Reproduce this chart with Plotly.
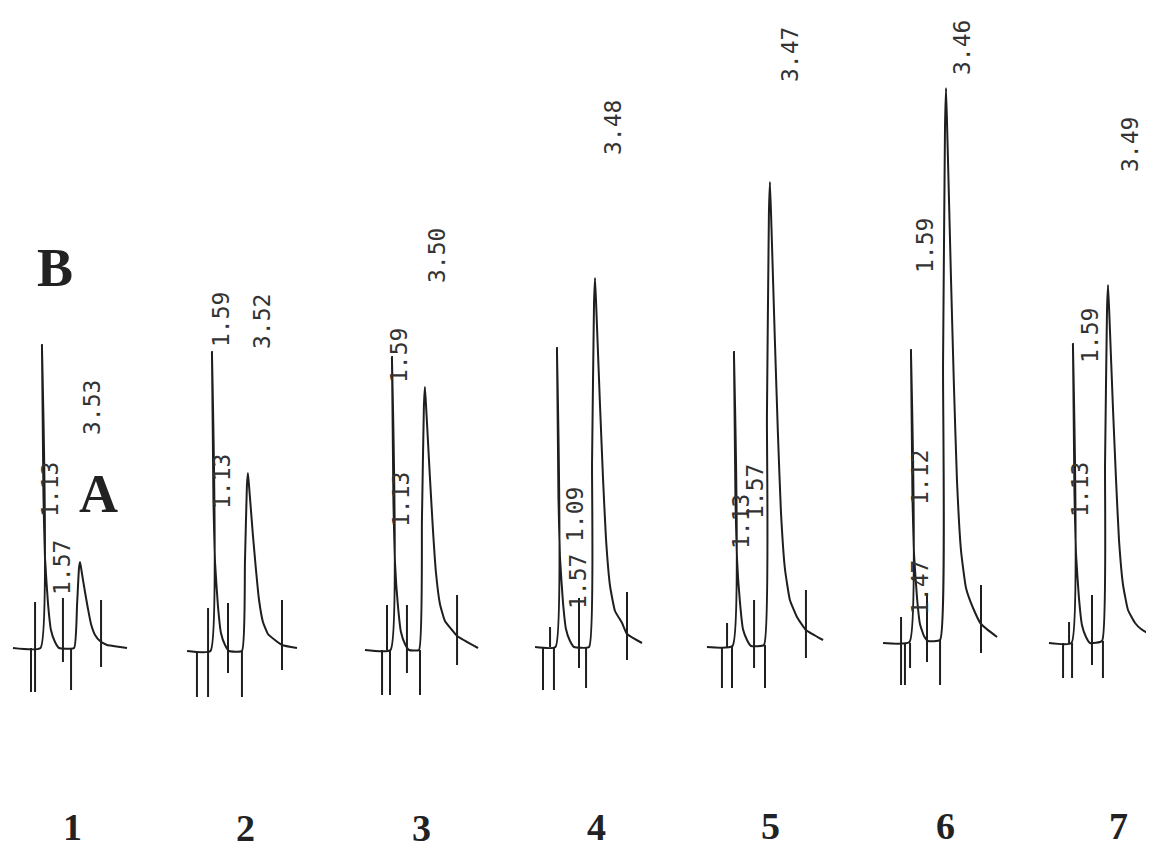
import plotly.graph_objects as go

# run numbers printed under each chromatogram
run_names = ["1", "2", "3", "4", "5", "6", "7"]

# detector signal per run: time (min) and response (arbitrary units)
signal_time = [
    [-0.80, 1.03, 1.13, 1.23, 1.33, 1.53, 1.73, 2.00, 2.27, 3.27, 3.47, 3.60, 3.67, 3.77, 4.00, 4.20, 4.40, 4.67, 5.00, 5.47, 5.87, 6.80],
    [-0.53, 1.03, 1.13, 1.23, 1.33, 1.53, 1.73, 2.00, 2.27, 3.13, 3.33, 3.46, 3.53, 3.63, 3.86, 4.06, 4.26, 4.53, 4.86, 5.33, 5.80, 6.80],
    [-0.67, 1.03, 1.13, 1.23, 1.33, 1.53, 1.73, 2.00, 2.27, 2.93, 3.13, 3.26, 3.33, 3.43, 3.66, 3.86, 4.06, 4.33, 4.66, 5.13, 5.47, 6.87],
    [-0.33, 1.03, 1.13, 1.23, 1.33, 1.53, 1.73, 2.00, 2.27, 3.27, 3.47, 3.60, 3.67, 3.77, 4.00, 4.20, 4.40, 4.67, 5.00, 5.47, 5.80, 6.80],
    [-0.67, 1.03, 1.13, 1.23, 1.33, 1.53, 1.73, 2.00, 2.27, 3.13, 3.33, 3.46, 3.53, 3.63, 3.86, 4.06, 4.26, 4.53, 4.86, 5.33, 5.93, 7.07],
    [-0.73, 1.03, 1.13, 1.23, 1.33, 1.53, 1.73, 2.00, 2.27, 3.07, 3.27, 3.40, 3.47, 3.57, 3.80, 4.00, 4.20, 4.47, 4.80, 5.27, 5.80, 6.87],
    [-0.47, 1.03, 1.13, 1.23, 1.33, 1.53, 1.73, 2.00, 2.27, 3.07, 3.27, 3.40, 3.47, 3.57, 3.80, 4.00, 4.20, 4.47, 4.80, 5.27, 5.67, 6.13, 6.53],
]
signal_value = [
    [0, 0, 303, 152, 91, 45, 18, 6, 0, 0, 43, 80, 86, 77, 56, 39, 24, 13, 7, 3, 2, 0],
    [-3, -3, 296, 147, 87, 42, 15, 3, -3, -3, 86, 162, 175, 157, 113, 79, 49, 26, 14, 8, 3, 0],
    [-2, -2, 291, 145, 86, 42, 16, 4, -2, -2, 129, 242, 261, 235, 171, 119, 76, 44, 27, 18, 12, 0],
    [1, 1, 300, 151, 91, 46, 19, 7, 1, 1, 186, 344, 370, 333, 243, 170, 109, 62, 37, 25, 14, 5],
    [1, 2, 296, 149, 90, 46, 19, 8, 2, 3, 234, 434, 466, 421, 307, 215, 137, 79, 48, 31, 18, 8],
    [5, 6, 298, 152, 95, 51, 24, 12, 7, 8, 284, 521, 560, 505, 369, 260, 167, 97, 60, 40, 24, 11],
    [5, 5, 304, 155, 95, 50, 23, 11, 5, 7, 185, 338, 363, 328, 239, 169, 108, 63, 38, 25, 19, 15, 14],
]

# integrator event marks: time, upper end, lower end
mark_time = [
    [0.40, 0.67, 2.53, 3.07, 5.07],
    [0.13, 0.87, 2.20, 3.13, 5.80],
    [0.47, 0.80, 1.00, 2.13, 3.00, 5.47],
    [0.20, 0.67, 0.93, 2.60, 3.07, 5.80],
    [0.33, 0.67, 1.00, 2.47, 3.20, 5.93],
    [0.47, 0.73, 1.07, 2.20, 3.07, 5.80],
    [0.47, 0.87, 1.07, 2.40, 3.13, 6.13],
]
mark_top = [
    [0, 46, 50, 0, 48],
    [-3, 40, 45, -3, 48],
    [-2, 43, -2, 43, -2, 53],
    [1, 21, 1, 50, 1, 56],
    [1, 25, 1, 48, 3, 58],
    [31, 5, 5, 55, 8, 63],
    [5, 26, 5, 53, 7, 56],
]
mark_bottom = [
    [-44, -44, -14, -42, -19],
    [-49, -49, -25, -49, -22],
    [-47, -2, -47, -25, -47, -17],
    [-42, 1, -42, -20, -40, -12],
    [-40, 1, -40, -20, -40, -10],
    [-37, -37, -20, -14, -37, -5],
    [-30, 5, -30, -17, -30, -12],
]

# retention time labels printed by the integrator
rt_labels = [
    ["1.13", "1.57", "3.53"],
    ["1.59", "1.13", "3.52"],
    ["1.59", "1.13", "3.50"],
    ["1.09", "1.57", "3.48"],
    ["1.13", "1.57", "3.47"],
    ["1.59", "1.12", "1.47", "3.46"],
    ["1.59", "1.13", "3.49"],
]

W, H = 1154, 853
OFF = 8  # page body margin
FW, FH = W - OFF, H - OFF
PX_PER_MIN = 15
T_MIN = -1.0
panel_left = [10, 180, 360, 525, 702, 879, 1041]
panel_width = 125
# label centres in page pixels, same order as rt_labels
label_pos = [
    [(50, 490), (62, 568), (92, 408)],
    [(221, 320), (222, 482), (262, 322)],
    [(399, 356), (401, 500), (437, 256)],
    [(575, 515), (578, 582), (613, 128)],
    [(741, 522), (755, 492), (790, 55)],
    [(925, 246), (920, 478), (920, 588), (962, 48)],
    [(1090, 336), (1080, 490), (1130, 145)],
]
name_pos = [(72, 827), (245, 828), (421, 828), (596, 827), (770, 826), (945, 826), (1118, 826)]


def px_x(px):
    return (px - OFF) / FW


def px_y(py):
    return 1 - (py - OFF) / FH


ink = "#1e1e1e"
fig = go.Figure()
layout = {}
for i in range(7):
    ax = "x" if i == 0 else "x%d" % (i + 1)
    left = panel_left[i]
    right = min(W, left + panel_width)
    layout["xaxis" if i == 0 else "xaxis%d" % (i + 1)] = dict(
        domain=[px_x(left), px_x(right)],
        range=[T_MIN, T_MIN + (right - left) / PX_PER_MIN],
        visible=False, anchor="y", fixedrange=True,
    )
    fig.add_trace(go.Scatter(
        x=signal_time[i], y=signal_value[i], xaxis=ax, yaxis="y",
        mode="lines", line=dict(color=ink, width=2, shape="spline", smoothing=0.4),
        showlegend=False,
    ))
    mx, my = [], []
    for t, a, b in zip(mark_time[i], mark_top[i], mark_bottom[i]):
        mx += [t, t, None]
        my += [a, b, None]
    fig.add_trace(go.Scatter(
        x=mx, y=my, xaxis=ax, yaxis="y",
        mode="lines", line=dict(color=ink, width=2), showlegend=False,
    ))

annotations = []
for i in range(7):
    for text, (px, py) in zip(rt_labels[i], label_pos[i]):
        annotations.append(dict(
            x=px_x(px), y=px_y(py), xref="paper", yref="paper", text=text,
            xanchor="center", yanchor="middle", textangle=-90, showarrow=False,
            font=dict(family="DejaVu Sans Mono", size=23, color="#333"),
        ))
    px, py = name_pos[i]
    annotations.append(dict(
        x=px_x(px), y=px_y(py), xref="paper", yref="paper", text="<b>%s</b>" % run_names[i],
        xanchor="center", yanchor="middle", showarrow=False,
        font=dict(family="Liberation Serif", size=38, color="#222"),
    ))
for text, (px, py) in [("A", (98, 494)), ("B", (55, 268))]:
    annotations.append(dict(
        x=px_x(px), y=px_y(py), xref="paper", yref="paper", text="<b>%s</b>" % text,
        xanchor="center", yanchor="middle", showarrow=False,
        font=dict(family="Liberation Serif", size=54, color="#222"),
    ))

fig.update_layout(
    **layout,
    yaxis=dict(range=[648 - OFF - FH, 648 - OFF], domain=[0, 1], visible=False,
               anchor="x", fixedrange=True),
    annotations=annotations,
    width=FW, height=FH,
    margin=dict(l=0, r=0, t=0, b=0),
    paper_bgcolor="white", plot_bgcolor="white",
)
fig.write_html("out.html")
